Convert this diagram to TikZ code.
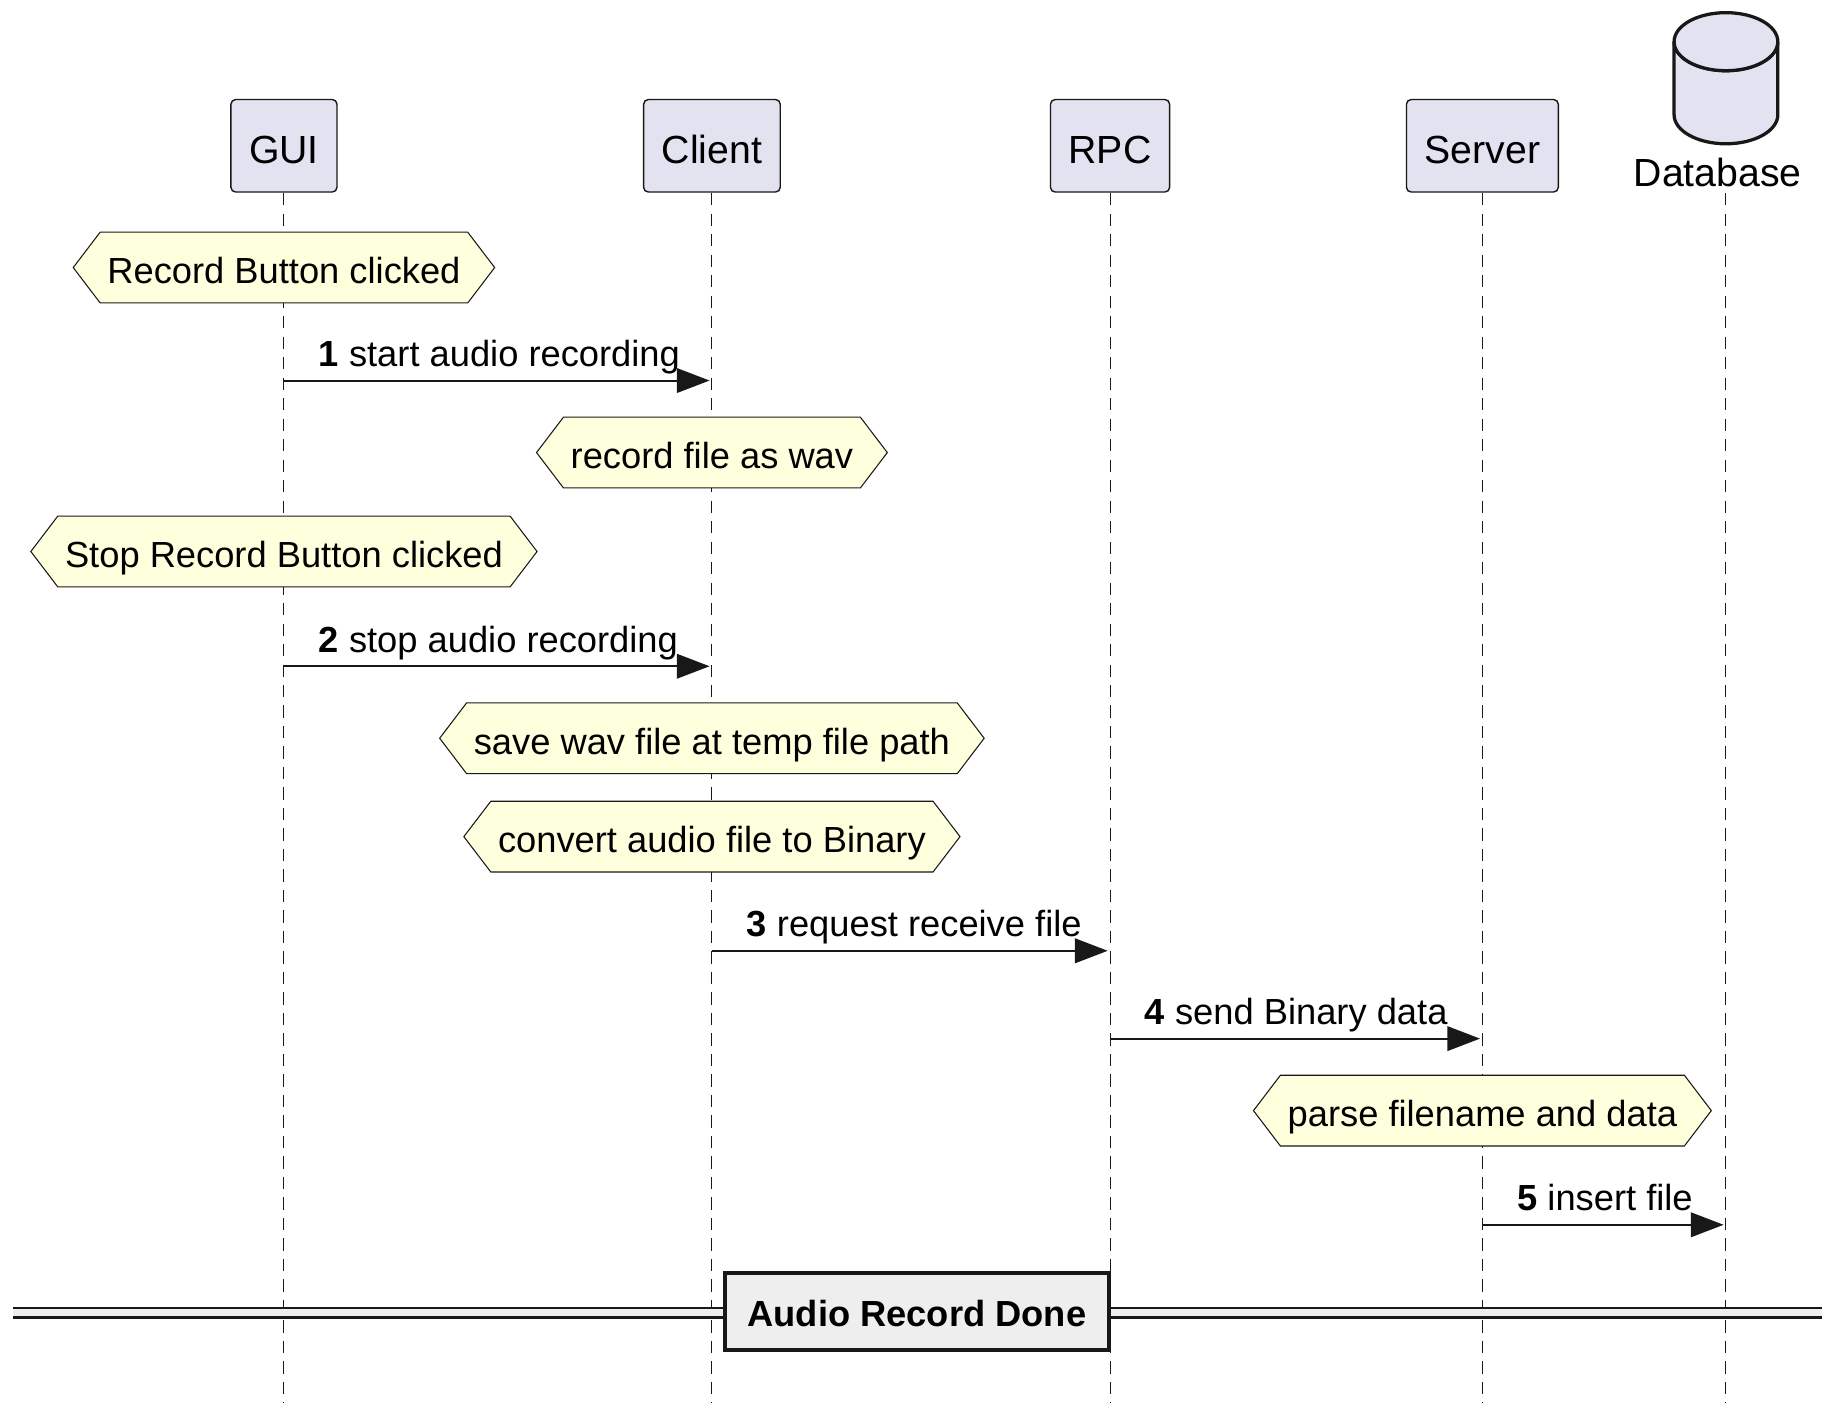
\documentclass[tikz,border=0pt]{standalone}
\usepackage{fontspec}
\setmainfont{Liberation Sans}
\usetikzlibrary{arrows.meta}
\definecolor{ink}{HTML}{181818}
\definecolor{partfill}{HTML}{E2E2F0}
\definecolor{notefill}{HTML}{FEFFDD}
\definecolor{divfill}{HTML}{EEEEEE}
\pgfdeclarelayer{lifelayer}
\pgfdeclarelayer{notelayer}
\pgfsetlayers{lifelayer,notelayer,main}
\newcommand{\fsN}{\fontsize{31}{37}\selectfont}
\newcommand{\fsP}{\fontsize{33.5}{40}\selectfont}
\newcommand{\hexnote}[1]{\draw[hexa] (#1.north west) -- (#1.north east) -- ([xshift=23pt]#1.east) -- (#1.south east) -- (#1.south west) -- ([xshift=-23pt]#1.west) -- cycle;}
\begin{document}
\begin{tikzpicture}[x=1pt,y=-1pt,
  part/.style={draw=ink, line width=1.2pt, fill=partfill, rounded corners=4pt, minimum height=79pt, inner xsep=15.5pt, inner ysep=0pt, text height=30pt, text depth=0pt, font=\fsP},
  notetext/.style={minimum height=60pt, inner xsep=6pt, inner ysep=0pt, text height=27pt, text depth=0pt, font=\fsN},
  hexa/.style={draw=ink, line width=0.9pt, fill=notefill},
  lifeline/.style={draw=ink, line width=0.9pt, dash pattern=on 10.5pt off 7pt},
  msg/.style={draw=ink, line width=1.7pt, -{Triangle[length=28pt,width=21pt]}, shorten >=2pt},
  msglabel/.style={anchor=base west, inner sep=0pt, font=\fsN},
  divider/.style={draw=ink, line width=3pt, fill=divfill, minimum width=328pt, minimum height=66pt, inner sep=0pt, text height=26pt, text depth=0pt, font=\fsN\bfseries},
  dbshape/.style={draw=ink, fill=partfill, line width=2.8pt}
]
\useasboundingbox (0,0) rectangle (1568,1212);

% participants
\node[part] (gui) at (242.5,124.5) {GUI};
\node[part] (client) at (608,124.5) {Client};
\node[part] (rpc) at (948,124.5) {RPC};
\node[part] (server) at (1266,124.5) {Server};
\coordinate (dbx) at (1474,165);
\filldraw[dbshape] (1429.7,35.6) -- (1429.7,98) arc[start angle=180, end angle=0, x radius=44.3, y radius=24.8] -- (1518.3,35.6) arc[start angle=0, end angle=180, x radius=44.3, y radius=24.8] -- cycle;
\filldraw[dbshape] (1474,35.6) ellipse [x radius=44.3, y radius=24.8];
\node[font=\fsP, anchor=base, inner sep=0pt] (db) at (1467,159.5) {Database};

% lifelines
\begin{pgfonlayer}{lifelayer}
  \draw[lifeline] (gui.center |- 0,165) -- (gui.center |- 0,1198);
  \draw[lifeline] (client.center |- 0,165) -- (client.center |- 0,1198);
  \draw[lifeline] (rpc.center |- 0,165) -- (rpc.center |- 0,1198);
  \draw[lifeline] (server.center |- 0,165) -- (server.center |- 0,1198);
  \draw[lifeline] (dbx) -- (dbx |- 0,1198);
\end{pgfonlayer}

% notes
\node[notetext] (n1) at (242.5,228.5) {Record Button clicked};
\node[notetext] (n2) at (608,386.5) {record file as wav};
\node[notetext] (n3) at (242.5,471) {Stop Record Button clicked};
\node[notetext] (n4) at (608,630.5) {save wav file at temp file path};
\node[notetext] (n5) at (608,714.5) {convert audio file to Binary};
\node[notetext] (n6) at (1266,948.5) {parse filename and data};
\begin{pgfonlayer}{notelayer}
  \hexnote{n1}\hexnote{n2}\hexnote{n3}\hexnote{n4}\hexnote{n5}\hexnote{n6}
\end{pgfonlayer}

% messages
\node[msglabel] (m1) at (272,313) {\textbf{1} start audio recording};
\draw[msg] (gui.center |- 0,325) -- (client.center |- 0,325);
\node[msglabel] (m2) at (272,557) {\textbf{2} stop audio recording};
\draw[msg] (gui.center |- 0,569) -- (client.center |- 0,569);
\node[msglabel] (m3) at (637.5,800) {\textbf{3} request receive file};
\draw[msg] (client.center |- 0,812) -- (rpc.center |- 0,812);
\node[msglabel] (m4) at (977.5,875) {\textbf{4} send Binary data};
\draw[msg] (rpc.center |- 0,887) -- (server.center |- 0,887);
\node[msglabel] (m5) at (1295.5,1034) {\textbf{5} insert file};
\draw[msg] (server.center |- 0,1046) -- (dbx |- 0,1046);

% divider
\coordinate (dl) at (11,1121);
\coordinate (dr) at (1556,1121);
\fill[divfill] ([yshift=4pt]dl) rectangle ([yshift=-4pt]dr);
\draw[ink, line width=2.3pt] ([yshift=4pt]dl) -- ([yshift=4pt]dr);
\draw[ink, line width=2.3pt] ([yshift=-4pt]dl) -- ([yshift=-4pt]dr);
\node[divider] (done) at (783,1120) {Audio Record Done};
\end{tikzpicture}
\end{document}
